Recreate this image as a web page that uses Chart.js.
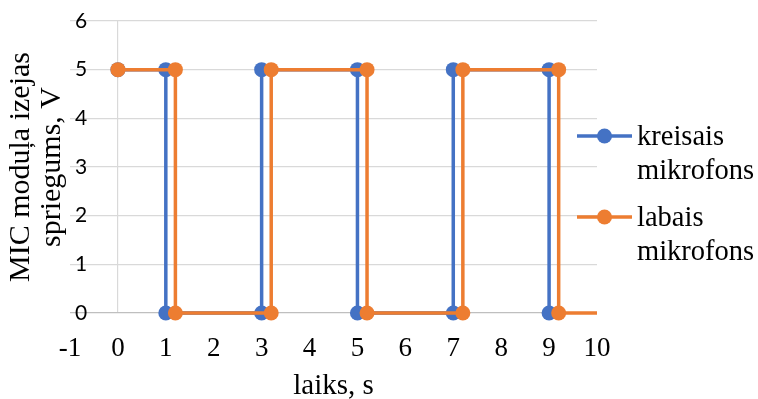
<!DOCTYPE html>
<html>
<head>
<meta charset="utf-8">
<script src="https://cdn.jsdelivr.net/npm/chart.js@4/dist/chart.umd.min.js"></script>
<style>
  html, body { margin: 0; padding: 0; background: #ffffff; }
  #wrap { width: 758px; height: 399px; position: relative; }
</style>
</head>
<body>
<div id="wrap"><canvas id="c" width="758" height="399"></canvas></div>
<script>
// ---- data ----
const seriesNames = [["kreisais", "mikrofons"], ["labais", "mikrofons"]];
const leftTime = [0, 1, 1, 3, 3, 5, 5, 7, 7, 9, 9];
const leftVolt = [5, 5, 0, 0, 5, 5, 0, 0, 5, 5, 0];
const rightTime = [0, 1.2, 1.2, 3.2, 3.2, 5.2, 5.2, 7.2, 7.2, 9.2, 9.2, 10];
const rightVolt = [5, 5, 0, 0, 5, 5, 0, 0, 5, 5, 0, 0];
const xTitle = "laiks, s";
const yTitle = ["MIC moduļa izejas", "spriegums, V"];
const xMin = -1, xMax = 10, yMin = 0, yMax = 6;

const BLUE = '#4472C4';
const ORANGE = '#ED7D31';
const SERIF = '"Liberation Serif", "Times New Roman", serif';

function pts(xs, ys) { return xs.map((x, i) => ({ x: x, y: ys[i] })); }

const legendPlugin = {
  id: 'sideLegend',
  afterDraw(chart) {
    const ctx = chart.ctx;
    const ca = chart.chartArea;
    const x0 = ca.right - 20, x1 = ca.right + 35, xm = (x0 + x1) / 2;
    const tx = x1 + 5;
    const rows = [ca.top + 115, ca.top + 196];
    const lineGap = 34;
    chart.data.datasets.forEach((ds, i) => {
      const y = rows[i];
      ctx.save();
      ctx.strokeStyle = ds.borderColor;
      ctx.lineWidth = 3.5;
      ctx.beginPath(); ctx.moveTo(x0, y); ctx.lineTo(x1, y); ctx.stroke();
      ctx.fillStyle = ds.borderColor;
      ctx.beginPath(); ctx.arc(xm, y, 7.5, 0, Math.PI * 2); ctx.fill();
      ctx.fillStyle = '#000';
      ctx.font = '28.5px ' + SERIF;
      ctx.textBaseline = 'alphabetic';
      ctx.textAlign = 'left';
      seriesNames[i].forEach((t, k) => ctx.fillText(t, tx, y + 9 + k * lineGap));
      ctx.restore();
    });
  }
};

new Chart(document.getElementById('c'), {
  type: 'line',
  data: {
    datasets: [
      { label: seriesNames[0].join(' '), data: pts(leftTime, leftVolt), borderColor: BLUE, backgroundColor: BLUE,
        order: 1 },
      { label: seriesNames[1].join(' '), data: pts(rightTime, rightVolt), borderColor: ORANGE, backgroundColor: ORANGE,
        order: 0,
        pointRadius: (c) => c.dataIndex === rightTime.length - 1 ? 0 : 7.5 }
    ]
  },
  options: {
    responsive: false,
    animation: false,
    devicePixelRatio: 1,
    clip: false,
    layout: { padding: { top: 21, right: 161, bottom: 0, left: 0 } },
    elements: {
      line: { borderWidth: 3.5, tension: 0, fill: false },
      point: { radius: 7.5, borderWidth: 0, hoverRadius: 7.5 }
    },
    plugins: { legend: { display: false }, tooltip: { enabled: false } },
    scales: {
      x: {
        type: 'linear', min: xMin, max: xMax,
        afterFit(s) { s.height = 86; },
        border: { display: false },
        grid: { drawTicks: false, lineWidth: 1.2,
          color: (c) => (c.tick && c.tick.value === 0) ? '#d9d9d9' : 'rgba(0,0,0,0)' },
        ticks: { stepSize: 1, padding: 20, color: '#000', maxRotation: 0,
          font: { family: SERIF, size: 27, lineHeight: 1.2 } },
        title: { display: true, text: xTitle, color: '#000', padding: 0,
          font: { family: SERIF, size: 29, lineHeight: 0.85 } }
      },
      y: {
        type: 'linear', min: yMin, max: yMax,
        afterFit(s) { s.width = 70; },
        border: { display: false },
        grid: { drawTicks: false, lineWidth: 1.2,
          color: (c) => (c.tick && c.tick.value === 0) ? '#bfbfbf' : '#d9d9d9' },
        ticks: { stepSize: 1, mirror: true, padding: 5, color: '#000',
          font: { family: 'Lato, "Liberation Sans", sans-serif', size: 21 } },
        title: { display: true, text: yTitle, color: '#000', padding: { top: 6, bottom: 0 },
          font: { family: SERIF, size: 30, lineHeight: 1.03 } }
      }
    }
  },
  plugins: [legendPlugin]
});
</script>
</body>
</html>
